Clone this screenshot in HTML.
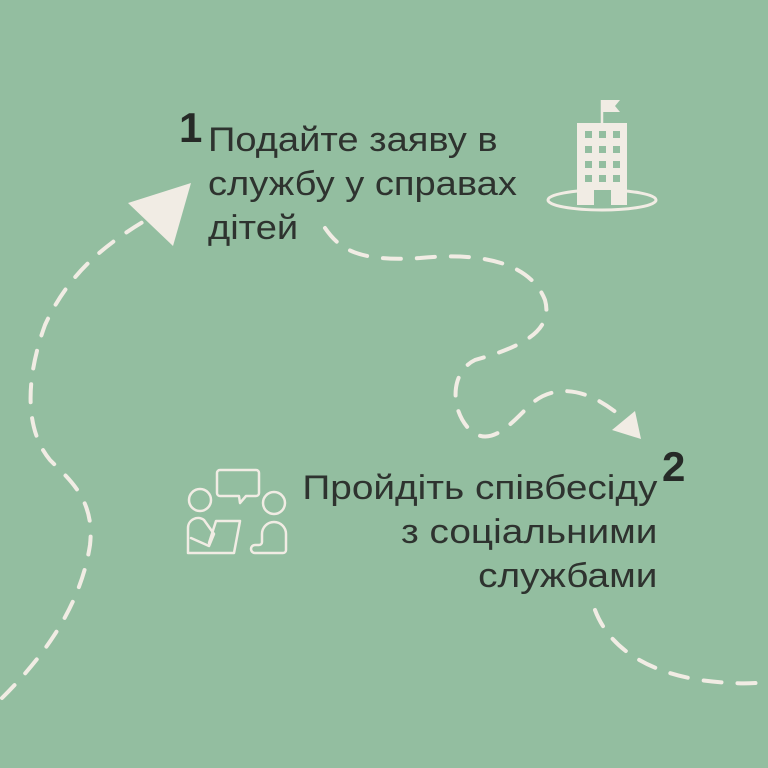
<!DOCTYPE html>
<html><head><meta charset="utf-8"><style>
html,body{margin:0;padding:0}
body{width:768px;height:768px;background:#93bea0;overflow:hidden;position:relative;font-family:"Liberation Sans",Arial,sans-serif;color:#2e332f}
.t{position:absolute;font-size:34px;line-height:44px;white-space:nowrap}
.n{position:absolute;font-size:42px;font-weight:bold;color:#262a27}
</style></head><body>
<svg width="768" height="768" style="position:absolute;left:0;top:0">
<g fill="none" stroke="#f1ece4" stroke-width="4" stroke-linecap="round" stroke-dasharray="18 16">
<path d="M2,698 C40,660 80,610 90,545 C95,500 70,480 50,460 C25,430 25,380 45,325 C70,270 110,240 160,212"/>
<path d="M325,228 C340,250 360,262 420,258 C480,252 530,262 545,300 C555,335 510,350 475,360 C450,372 450,410 470,430 C490,448 510,425 530,405 C555,382 590,388 625,420"/>
<path d="M595,610 C610,650 650,672 700,680 C730,684 750,684 768,682"/>
</g>
<polygon points="191,183 128,203 173,246" fill="#f1ece4"/>
<polygon points="641,439 635,411 612,430" fill="#f1ece4"/>
<ellipse cx="602" cy="200" rx="54" ry="10" fill="none" stroke="#f1ece4" stroke-width="3"/>
<rect x="577" y="123" width="50" height="82" fill="#f1ece4"/>
<line x1="602" y1="100" x2="602" y2="123" stroke="#f1ece4" stroke-width="2.5"/>
<polygon points="602,100 620,100 615,106 620,112 602,112" fill="#f1ece4"/>
<g fill="#93bea0">
<rect x="585" y="131" width="7" height="7"/><rect x="599" y="131" width="7" height="7"/><rect x="613" y="131" width="7" height="7"/>
<rect x="585" y="146" width="7" height="7"/><rect x="599" y="146" width="7" height="7"/><rect x="613" y="146" width="7" height="7"/>
<rect x="585" y="161" width="7" height="7"/><rect x="599" y="161" width="7" height="7"/><rect x="613" y="161" width="7" height="7"/>
<rect x="585" y="175" width="7" height="7"/><rect x="599" y="175" width="7" height="7"/><rect x="613" y="175" width="7" height="7"/>
<rect x="594" y="190" width="17" height="15"/>
</g>
<g fill="none" stroke="#f1ece4" stroke-width="2.5" stroke-linejoin="round" stroke-linecap="round">
<path d="M220,470 h36 a3,3 0 0 1 3,3 v20 a3,3 0 0 1 -3,3 h-10 l-6,7 l-1,-7 h-19 a3,3 0 0 1 -3,-3 v-20 a3,3 0 0 1 3,-3z"/>
<circle cx="200" cy="500" r="11"/>
<circle cx="274" cy="503" r="11"/>
<path d="M188,553 v-25 a10,10 0 0 1 16,-8 l10,14 l-5,12 l-18,-8 M188,553 h46 l6,-32 h-24 l-7,22"/>
<path d="M255,553 h28 a3,3 0 0 0 3,-3 v-16 a12,12 0 0 0 -24,0 v8 a3,3 0 0 1 -3,3 h-4 a4,4 0 0 0 0,8z"/>
</g>
</svg>
<div class="n" style="left:179px;top:104px">1</div>
<div class="t" style="left:208px;top:118px;transform:scaleX(1.12);transform-origin:0 0">Подайте заяву в<br>службу у справах<br>дітей</div>
<div class="n" style="left:662px;top:443px">2</div>
<div class="t" style="right:111px;top:466px;text-align:right;transform:scaleX(1.14);transform-origin:100% 0">Пройдіть співбесіду<br>з соціальними<br>службами</div>
</body></html>
